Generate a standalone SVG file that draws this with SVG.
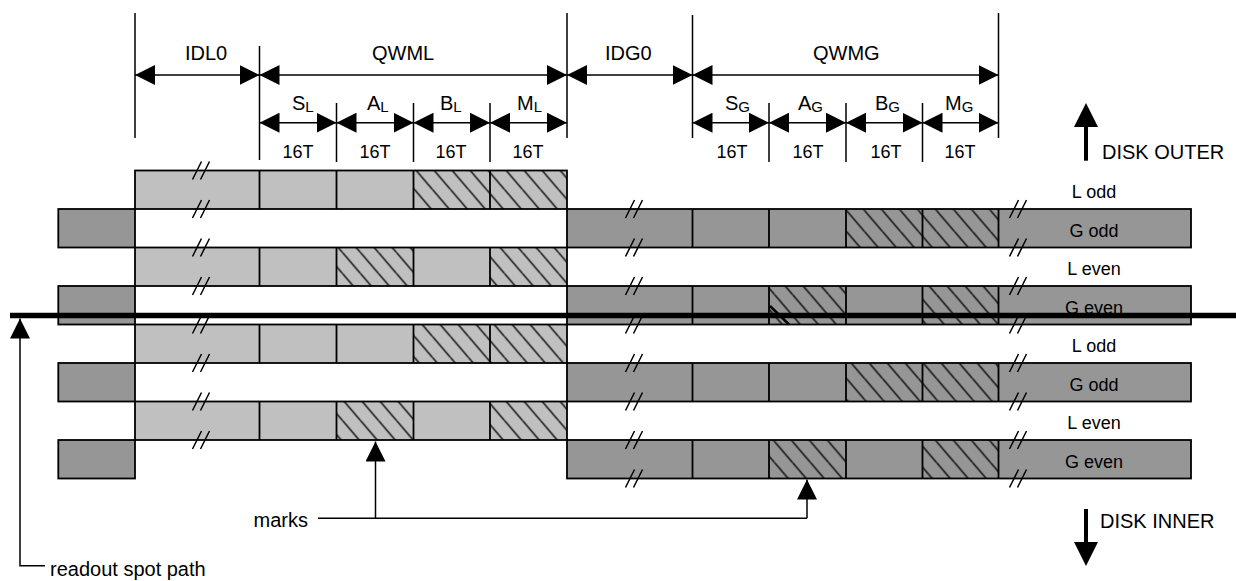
<svg xmlns="http://www.w3.org/2000/svg" width="1236" height="581" viewBox="0 0 1236 581">
<defs>
<marker id="ah" markerUnits="userSpaceOnUse" markerWidth="20" markerHeight="20" refX="20" refY="10" orient="auto-start-reverse" viewBox="0 0 20 20"><path d="M0,0 L20,10 L0,20 z" fill="#000"/></marker>
<pattern id="hatch" patternUnits="userSpaceOnUse" x="0.5" y="0.5" width="18" height="21"><path d="M0,0 L18,21 M-18,0 L0,21 M18,0 L36,21" stroke="#000" stroke-width="1.4" fill="none"/></pattern>
<path id="brk" d="M-8.5,9 L0.5,-9 M-0.5,9 L8.5,-9" stroke="#000" stroke-width="1.5" fill="none"/>
</defs>
<style>
text{font-family:"Liberation Sans",Arial,sans-serif;fill:#000}
.t20{font-size:20px}
.t18{font-size:18px}
.mid{text-anchor:middle}
.dim{stroke:#000;stroke-width:1.5;fill:none;marker-start:url(#ah);marker-end:url(#ah)}
.ext{stroke:#000;stroke-width:1.5;fill:none}
.Lf{fill:#c0c0c0}
.Gf{fill:#969696}
.hf{fill:url(#hatch)}
.ol{fill:none;stroke:#000;stroke-width:1.8}
.con{stroke:#000;stroke-width:1.5;fill:none}
.ca{marker-end:url(#ah)}
</style>
<rect width="1236" height="581" fill="#fff"/>

<g id="dimensions">
<path class="ext" d="M135,13 V138 M259.5,46 V160 M567,13 V138 M692.5,15 V138 M998.5,13 V138 M336.5,103 V162 M413.5,103 V162 M490,103 V162 M769,103 V162 M846,103 V162 M922.5,103 V162"/>
<g id="dim-IDL0"><line class="dim" x1="135" y1="75" x2="259.5" y2="75"/><text class="t20" x="185" y="60">IDL0</text></g>
<g id="dim-QWML"><line class="dim" x1="259.5" y1="75" x2="567" y2="75"/><text class="t20" x="372" y="60">QWML</text></g>
<g id="dim-IDG0"><line class="dim" x1="567" y1="75" x2="692.5" y2="75"/><text class="t20" x="605" y="60">IDG0</text></g>
<g id="dim-QWMG"><line class="dim" x1="692.5" y1="75" x2="998.5" y2="75"/><text class="t20" x="813" y="60">QWMG</text></g>
<g id="dim-SL"><line class="dim" x1="259.5" y1="122.7" x2="336.5" y2="122.7"/><text class="t20" x="292" y="110">S<tspan font-size="15" dy="2">L</tspan></text><text class="t18 mid" x="298" y="158">16T</text></g>
<g id="dim-AL"><line class="dim" x1="336.5" y1="122.7" x2="413.5" y2="122.7"/><text class="t20" x="367" y="110">A<tspan font-size="15" dy="2">L</tspan></text><text class="t18 mid" x="375" y="158">16T</text></g>
<g id="dim-BL"><line class="dim" x1="413.5" y1="122.7" x2="490" y2="122.7"/><text class="t20" x="440" y="110">B<tspan font-size="15" dy="2">L</tspan></text><text class="t18 mid" x="451" y="158">16T</text></g>
<g id="dim-ML"><line class="dim" x1="490" y1="122.7" x2="567" y2="122.7"/><text class="t20" x="517" y="110">M<tspan font-size="15" dy="2">L</tspan></text><text class="t18 mid" x="528" y="158">16T</text></g>
<g id="dim-SG"><line class="dim" x1="692.5" y1="122.7" x2="769" y2="122.7"/><text class="t20" x="725" y="110">S<tspan font-size="15" dy="2">G</tspan></text><text class="t18 mid" x="732" y="158">16T</text></g>
<g id="dim-AG"><line class="dim" x1="769" y1="122.7" x2="846" y2="122.7"/><text class="t20" x="798" y="110">A<tspan font-size="15" dy="2">G</tspan></text><text class="t18 mid" x="808" y="158">16T</text></g>
<g id="dim-BG"><line class="dim" x1="846" y1="122.7" x2="922.5" y2="122.7"/><text class="t20" x="875" y="110">B<tspan font-size="15" dy="2">G</tspan></text><text class="t18 mid" x="886" y="158">16T</text></g>
<g id="dim-MG"><line class="dim" x1="922.5" y1="122.7" x2="998.5" y2="122.7"/><text class="t20" x="945" y="110">M<tspan font-size="15" dy="2">G</tspan></text><text class="t18 mid" x="960" y="158">16T</text></g>
</g>

<g id="row-L-odd-1">
<rect class="Lf" x="135" y="170.5" width="432" height="38.5"/>
<rect class="hf" x="413.5" y="170.5" width="153.5" height="38.5"/>
<rect class="ol" x="135" y="170.5" width="432" height="38.5"/>
<path class="ol" d="M259.5,170.5 v38.5 M336.5,170.5 v38.5 M413.5,170.5 v38.5 M490,170.5 v38.5"/>
</g>
<g id="row-G-odd-1">
<rect class="Gf" x="58.3" y="209" width="76.7" height="38.5"/><rect class="ol" x="58.3" y="209" width="76.7" height="38.5"/>
<rect class="Gf" x="567" y="209" width="624" height="38.5"/>
<rect class="hf" x="846" y="209" width="152.5" height="38.5"/>
<rect class="ol" x="567" y="209" width="624" height="38.5"/>
<path class="ol" d="M692.5,209 v38.5 M769,209 v38.5 M846,209 v38.5 M922.5,209 v38.5 M998.5,209 v38.5"/>
</g>
<g id="row-L-even-1">
<rect class="Lf" x="135" y="247.5" width="432" height="38.5"/>
<rect class="hf" x="336.5" y="247.5" width="77" height="38.5"/>
<rect class="hf" x="490" y="247.5" width="77" height="38.5"/>
<rect class="ol" x="135" y="247.5" width="432" height="38.5"/>
<path class="ol" d="M259.5,247.5 v38.5 M336.5,247.5 v38.5 M413.5,247.5 v38.5 M490,247.5 v38.5"/>
</g>
<g id="row-G-even-1">
<rect class="Gf" x="58.3" y="286" width="76.7" height="38.5"/><rect class="ol" x="58.3" y="286" width="76.7" height="38.5"/>
<rect class="Gf" x="567" y="286" width="624" height="38.5"/>
<rect class="hf" x="769" y="286" width="77" height="38.5"/>
<rect class="hf" x="922.5" y="286" width="76" height="38.5"/>
<rect class="ol" x="567" y="286" width="624" height="38.5"/>
<path class="ol" d="M692.5,286 v38.5 M769,286 v38.5 M846,286 v38.5 M922.5,286 v38.5 M998.5,286 v38.5"/>
<line x1="770" y1="306" x2="789" y2="324.5" stroke="#000" stroke-width="2.5"/>
</g>
<g id="row-L-odd-2">
<rect class="Lf" x="135" y="324.5" width="432" height="38.5"/>
<rect class="hf" x="413.5" y="324.5" width="153.5" height="38.5"/>
<rect class="ol" x="135" y="324.5" width="432" height="38.5"/>
<path class="ol" d="M259.5,324.5 v38.5 M336.5,324.5 v38.5 M413.5,324.5 v38.5 M490,324.5 v38.5"/>
</g>
<g id="row-G-odd-2">
<rect class="Gf" x="58.3" y="363" width="76.7" height="38.5"/><rect class="ol" x="58.3" y="363" width="76.7" height="38.5"/>
<rect class="Gf" x="567" y="363" width="624" height="38.5"/>
<rect class="hf" x="846" y="363" width="152.5" height="38.5"/>
<rect class="ol" x="567" y="363" width="624" height="38.5"/>
<path class="ol" d="M692.5,363 v38.5 M769,363 v38.5 M846,363 v38.5 M922.5,363 v38.5 M998.5,363 v38.5"/>
</g>
<g id="row-L-even-2">
<rect class="Lf" x="135" y="401.5" width="432" height="38.5"/>
<rect class="hf" x="336.5" y="401.5" width="77" height="38.5"/>
<rect class="hf" x="490" y="401.5" width="77" height="38.5"/>
<rect class="ol" x="135" y="401.5" width="432" height="38.5"/>
<path class="ol" d="M259.5,401.5 v38.5 M336.5,401.5 v38.5 M413.5,401.5 v38.5 M490,401.5 v38.5"/>
</g>
<g id="row-G-even-2">
<rect class="Gf" x="58.3" y="440" width="76.7" height="38.5"/><rect class="ol" x="58.3" y="440" width="76.7" height="38.5"/>
<rect class="Gf" x="567" y="440" width="624" height="38.5"/>
<rect class="hf" x="769" y="440" width="77" height="38.5"/>
<rect class="hf" x="922.5" y="440" width="76" height="38.5"/>
<rect class="ol" x="567" y="440" width="624" height="38.5"/>
<path class="ol" d="M692.5,440 v38.5 M769,440 v38.5 M846,440 v38.5 M922.5,440 v38.5 M998.5,440 v38.5"/>
</g>

<g id="break-marks">
<use href="#brk" x="201" y="170.5"/><use href="#brk" x="201" y="209"/><use href="#brk" x="201" y="247.5"/><use href="#brk" x="201" y="286"/>
<use href="#brk" x="201" y="324.5"/><use href="#brk" x="201" y="363"/><use href="#brk" x="201" y="401.5"/><use href="#brk" x="201" y="440"/>
<use href="#brk" x="634" y="209"/><use href="#brk" x="634" y="247.5"/><use href="#brk" x="634" y="286"/><use href="#brk" x="634" y="324.5"/>
<use href="#brk" x="634" y="363"/><use href="#brk" x="634" y="401.5"/><use href="#brk" x="634" y="440"/><use href="#brk" x="634" y="478.5"/>
<use href="#brk" x="1018" y="209"/><use href="#brk" x="1018" y="247.5"/><use href="#brk" x="1018" y="286"/><use href="#brk" x="1018" y="324.5"/>
<use href="#brk" x="1018" y="363"/><use href="#brk" x="1018" y="401.5"/><use href="#brk" x="1018" y="440"/><use href="#brk" x="1018" y="478.5"/>
</g>

<g id="row-labels">
<text class="t18 mid" x="1094" y="198">L odd</text>
<text class="t18 mid" x="1094" y="236.5">G odd</text>
<text class="t18 mid" x="1094" y="275">L even</text>
<text class="t18 mid" x="1094" y="313.5">G even</text>
<text class="t18 mid" x="1094" y="352">L odd</text>
<text class="t18 mid" x="1094" y="390.5">G odd</text>
<text class="t18 mid" x="1094" y="429">L even</text>
<text class="t18 mid" x="1094" y="467.5">G even</text>
</g>

<g id="readout-path">
<line x1="10" y1="315.5" x2="1236" y2="315.5" stroke="#000" stroke-width="5.5"/>
</g>

<g id="connectors">
<path class="con ca" d="M45,565.7 H20 V318.5"/>
<path class="con" d="M318,518.3 H807"/>
<path class="con ca" d="M375.5,518.3 V441.5"/>
<path class="con ca" d="M807,518.3 V479.5"/>
</g>

<g id="disk-outer">
<rect x="1084" y="126" width="4" height="34.7" fill="#000"/>
<path d="M1086,103 L1098,127 L1074,127 z" fill="#000"/>
<text class="t20" x="1102" y="159">DISK OUTER</text>
</g>
<g id="disk-inner">
<rect x="1084" y="509" width="4" height="34" fill="#000"/>
<path d="M1086,566 L1098,542 L1074,542 z" fill="#000"/>
<text class="t20" x="1100" y="528">DISK INNER</text>
</g>

<g id="annotation-labels">
<text class="t20" x="308" y="527" text-anchor="end">marks</text>
<text class="t20" x="50" y="576">readout spot path</text>
</g>
</svg>
